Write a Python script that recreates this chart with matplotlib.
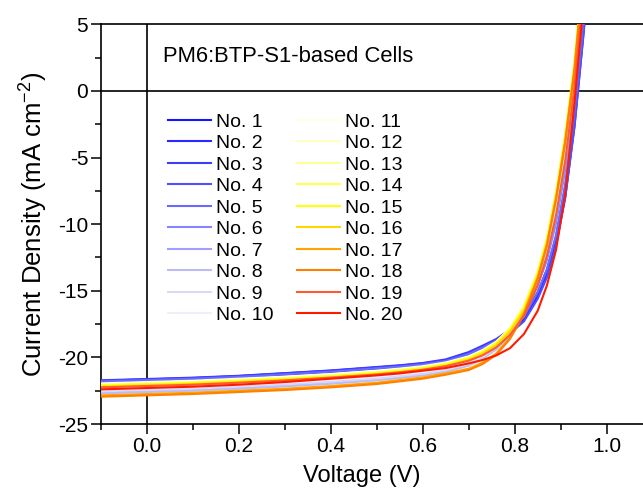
import matplotlib
matplotlib.use("Agg")
import matplotlib.pyplot as plt
from matplotlib.ticker import MultipleLocator

plt.rcParams['font.family'] = ['Liberation Sans', 'DejaVu Sans']
plt.rcParams['mathtext.fontset'] = 'custom'
plt.rcParams['mathtext.rm'] = 'Liberation Sans'
plt.rcParams['mathtext.it'] = 'Liberation Sans:italic'

# ---------------- data ----------------
voltage = [-0.1, 0.0, 0.1, 0.2, 0.3, 0.4, 0.5, 0.55, 0.6, 0.65, 0.7, 0.73, 0.76,
           0.79, 0.82, 0.85, 0.87, 0.89, 0.91, 0.93, 0.95, 0.96]

j01 = [-21.75, -21.65, -21.55, -21.40, -21.20, -21.00, -20.75, -20.62, -20.45, -20.20, -19.65, -19.20, -18.75, -18.10, -17.20, -15.50, -13.90, -11.50, -7.90, -2.60, 4.50, 8.5]
j02 = [-21.80, -21.70, -21.60, -21.45, -21.25, -21.05, -20.80, -20.67, -20.50, -20.25, -19.72, -19.25, -18.75, -18.05, -17.05, -15.30, -13.60, -11.10, -7.40, -2.00, 5.10, 9.1]
j03 = [-21.72, -21.62, -21.52, -21.38, -21.18, -20.98, -20.72, -20.59, -20.42, -20.15, -19.60, -19.12, -18.62, -17.90, -16.90, -15.10, -13.40, -10.90, -7.10, -1.70, 5.40, 9.4]
j04 = [-21.85, -21.75, -21.65, -21.50, -21.30, -21.10, -20.85, -20.72, -20.55, -20.30, -19.78, -19.32, -18.85, -18.20, -17.30, -15.60, -14.00, -11.60, -8.00, -2.70, 4.40, 8.4]
j05 = [-21.80, -21.70, -21.60, -21.46, -21.27, -21.07, -20.82, -20.69, -20.52, -20.27, -19.74, -19.26, -18.74, -18.00, -16.95, -15.10, -13.40, -10.80, -7.00, -1.60, 5.50, 9.5]
j06 = [-22.05, -21.95, -21.85, -21.70, -21.52, -21.30, -21.05, -20.90, -20.72, -20.45, -19.95, -19.45, -18.85, -17.95, -16.70, -14.60, -12.70, -9.90, -5.90, -0.60, 6.60, 10.6]
j07 = [-22.60, -22.50, -22.40, -22.25, -22.08, -21.88, -21.62, -21.45, -21.25, -20.98, -20.55, -20.05, -19.35, -18.30, -16.80, -14.50, -12.40, -9.50, -5.40, -0.10, 7.20, 11.2]
j08 = [-22.70, -22.60, -22.50, -22.35, -22.18, -21.98, -21.72, -21.55, -21.35, -21.08, -20.62, -20.10, -19.40, -18.30, -16.70, -14.30, -12.10, -9.10, -5.00, 0.30, 7.60, 11.6]
j09 = [-22.55, -22.45, -22.35, -22.20, -22.03, -21.83, -21.58, -21.41, -21.22, -20.95, -20.50, -19.98, -19.25, -18.15, -16.55, -14.10, -11.90, -8.90, -4.80, 0.50, 7.80, 11.8]
j10 = [-22.40, -22.30, -22.20, -22.06, -21.88, -21.68, -21.43, -21.26, -21.08, -20.82, -20.38, -19.88, -19.15, -18.05, -16.45, -14.00, -11.80, -8.80, -4.70, 0.60, 7.90, 11.9]
j11 = [-21.95, -21.85, -21.75, -21.60, -21.45, -21.25, -21.00, -20.84, -20.66, -20.38, -19.92, -19.45, -18.82, -17.80, -16.25, -13.75, -11.40, -8.00, -3.80, 1.60, 9.00, 13.0]
j12 = [-22.00, -21.90, -21.80, -21.66, -21.50, -21.30, -21.06, -20.90, -20.72, -20.44, -19.98, -19.50, -18.85, -17.80, -16.20, -13.60, -11.20, -7.80, -3.60, 1.80, 9.20, 13.2]
j13 = [-22.05, -21.95, -21.85, -21.70, -21.55, -21.35, -21.10, -20.94, -20.76, -20.47, -20.02, -19.55, -18.90, -17.85, -16.25, -13.65, -11.15, -7.70, -3.40, 2.00, 9.40, 13.4]
j14 = [-22.10, -22.00, -21.90, -21.75, -21.60, -21.40, -21.15, -20.99, -20.80, -20.50, -20.05, -19.58, -18.92, -17.85, -16.20, -13.55, -11.05, -7.55, -3.25, 2.15, 9.60, 13.6]
j15 = [-22.12, -22.02, -21.92, -21.77, -21.62, -21.42, -21.17, -21.01, -20.82, -20.52, -20.07, -19.60, -18.95, -17.90, -16.30, -13.70, -11.20, -7.70, -3.40, 2.00, 9.50, 13.5]
j16 = [-22.20, -22.10, -22.00, -21.86, -21.70, -21.50, -21.26, -21.10, -20.92, -20.64, -20.18, -19.72, -19.08, -18.05, -16.50, -13.95, -11.50, -8.05, -3.80, 1.60, 9.00, 13.0]
j17 = [-22.85, -22.75, -22.65, -22.50, -22.35, -22.15, -21.90, -21.70, -21.50, -21.20, -20.85, -20.40, -19.70, -18.50, -16.70, -14.00, -11.50, -8.00, -3.70, 1.70, 9.10, 13.1]
j18 = [-22.95, -22.85, -22.75, -22.60, -22.45, -22.25, -22.00, -21.80, -21.60, -21.30, -20.95, -20.50, -19.80, -18.60, -16.80, -14.10, -11.60, -8.10, -3.80, 1.60, 9.00, 13.0]
j19 = [-22.25, -22.15, -22.05, -21.90, -21.73, -21.52, -21.28, -21.12, -20.93, -20.66, -20.25, -19.85, -19.25, -18.30, -16.90, -14.60, -12.40, -9.30, -5.20, 0.30, 7.70, 11.7]
j20 = [-22.40, -22.30, -22.20, -22.05, -21.85, -21.60, -21.35, -21.20, -21.00, -20.80, -20.45, -20.20, -19.85, -19.30, -18.25, -16.50, -14.60, -11.90, -7.70, -0.90, 6.60, 10.6]

curves = [j01, j02, j03, j04, j05, j06, j07, j08, j09, j10,
          j11, j12, j13, j14, j15, j16, j17, j18, j19, j20]
labels = ["No. %d" % i for i in range(1, 21)]

colors = ["#1414ff", "#2a2aff", "#3d3dff", "#5050ff", "#6a6aff",
          "#8585ff", "#a0a0ff", "#bcbcf5", "#d8d8f8", "#efeffc",
          "#ffffe6", "#ffffc0", "#ffff99", "#ffff55", "#ffff10",
          "#ffd700", "#ffa500", "#ff7f00", "#ff5a30", "#ff1a00"]

x_ticks = [0.0, 0.2, 0.4, 0.6, 0.8, 1.0]
y_ticks = [5, 0, -5, -10, -15, -20, -25]

# ---------------- figure ----------------
W, H = 643, 498
fig = plt.figure(figsize=(W / 100, H / 100), dpi=100)
ax_left, ax_right = 100.7, 652.7
ax_top, ax_bottom = 24.4, 424.0
ax = fig.add_axes([ax_left / W, 1 - ax_bottom / H,
                   (ax_right - ax_left) / W, (ax_bottom - ax_top) / H])

ax.axhline(0, color='black', lw=1.2, zorder=1)
ax.axvline(0, color='black', lw=1.2, zorder=1)

for i in range(20):
    ax.plot(voltage, curves[i], color=colors[i], lw=1.5, label=labels[i], zorder=2 + i)

ax.set_xlim(-0.1, 1.1)
ax.set_ylim(-25, 5)
ax.set_xticks(x_ticks)
ax.set_xticklabels(["%.1f" % t for t in x_ticks])
ax.set_yticks(y_ticks)
ax.set_yticklabels(["%d" % t for t in y_ticks])
ax.xaxis.set_minor_locator(MultipleLocator(0.1))
ax.yaxis.set_minor_locator(MultipleLocator(2.5))
ax.tick_params(which='major', direction='out', length=7, width=1.1, labelsize=15, pad=2)
ax.tick_params(which='minor', direction='out', length=4, width=1.1)
ax.tick_params(top=False, right=False)
for s in ['left', 'bottom', 'top']:
    ax.spines[s].set_linewidth(1.2)
ax.spines['right'].set_visible(False)

ax.set_xlabel("Voltage (V)", fontsize=17, labelpad=7)
ax.xaxis.label.set_x((362 - ax_left) / (ax_right - ax_left))
ax.set_ylabel("Current Density (mA cm$^{-2}$)", fontsize=18.5, labelpad=6)

ax.text(163 / W, 1 - 57 / H, "PM6:BTP-S1-based Cells", transform=fig.transFigure,
        fontsize=15.8, ha='left', va='center')

leg = ax.legend(ncol=2, loc='upper left', bbox_to_anchor=(168 / W, 1 - 113 / H),
                bbox_transform=fig.transFigure, frameon=False, fontsize=14,
                handlelength=2.2, handletextpad=0.25, labelspacing=0.2,
                columnspacing=1.25, borderpad=0, borderaxespad=0)

fig.savefig("out.png", dpi=100)
